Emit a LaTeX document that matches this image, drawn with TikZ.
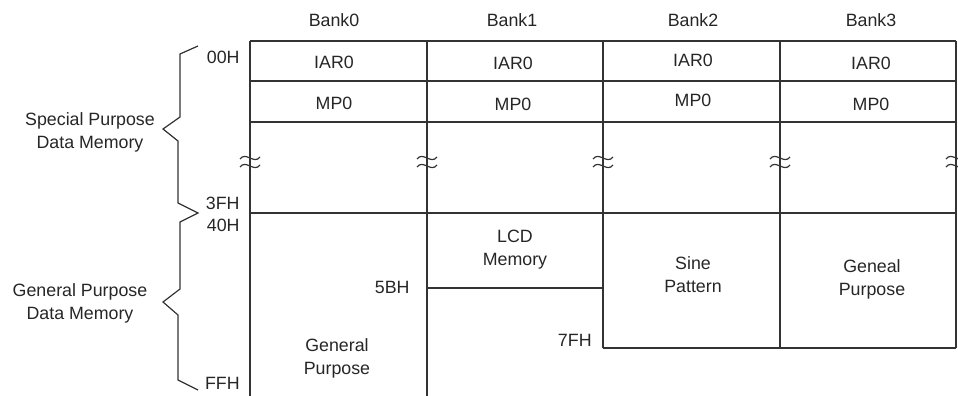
\documentclass[tikz,border=0pt]{standalone}
\usepackage{fontspec}
\setmainfont{Liberation Sans}

\begin{document}
\begin{tikzpicture}[x=0.5pt,y=-0.5pt,
  every node/.style={font=\fontsize{8.9}{11.4}\selectfont, text=black!85, align=center, inner sep=0pt},
  gridline/.style={draw=black!80, line width=0.65pt},
  bracket/.style={draw=black!80, line width=0.6pt},
  addr/.style={anchor=east},
]
    \useasboundingbox (0,0) rectangle (958,396);

    % bank headings
    \node (bank0) at (334,20) {Bank0};
    \node (bank1) at (512,20) {Bank1};
    \node (bank2) at (693,20) {Bank2};
    \node (bank3) at (871,20) {Bank3};

    % rows shared by all banks
    \draw [gridline] (250,41) -- (956,41);
    \draw [gridline] (250,81) -- (956,81);
    \draw [gridline] (250,122) -- (956,122);
    \draw [gridline] (250,213) -- (956,213);

    % bank dividers
    \draw [gridline] (250,41) -- (250,400);
    \draw [gridline] (427,41) -- (427,400);
    \draw [gridline] (603,41) -- (603,348);
    \draw [gridline] (780,41) -- (780,348);
    \draw [gridline] (956,41) -- (956,348);

    \draw [gridline] (427,288) -- (603,288);
    \draw [gridline] (603,348) -- (956,348);

    % break marks
    \foreach \x in {250,427,603,780,956} {
      \draw [bracket] (\x-10,159) .. controls (\x-4,151) and (\x+4,165) .. (\x+10,157);
      \draw [bracket] (\x-10,167) .. controls (\x-4,159) and (\x+4,173) .. (\x+10,165);
    }

    \node (iar0) at (334,62) {IAR0};
    \node (iar1) at (513,63) {IAR0};
    \node (iar2) at (693,60) {IAR0};
    \node (iar3) at (871,63) {IAR0};

    \node (mp0) at (334,103) {MP0};
    \node (mp1) at (513,104) {MP0};
    \node (mp2) at (693,100) {MP0};
    \node (mp3) at (871,104) {MP0};

    \node (lcd)  at (515,250) {LCD\\Memory};
    \node (sine) at (693,275) {Sine\\Pattern};
    \node (gen3) at (872,279) {Geneal\\Purpose};
    \node (gen0) at (337,358) {General\\Purpose};

    % addresses
    \node [addr] (a00) at (240,57)  {00H};
    \node [addr] (a3f) at (240,203) {3FH};
    \node [addr] (a40) at (240,225) {40H};
    \node [addr] (aff) at (240,383) {FFH};
    \node [addr] (a5b) at (410,287) {5BH};
    \node [addr] (a7f) at (592,340) {7FH};

    % braces
    \draw [bracket] (198,46) -- (180,54) -- (180,117) -- (163,129) -- (178,141) -- (178,203) -- (198,213)
      -- (180,222) -- (180,289) -- (163,302) -- (178,315) -- (178,380) -- (198,390);

    \node (spdm) at (90,132) {Special Purpose\\Data Memory};
    \node (gpdm) at (80,303) {General Purpose\\Data Memory};
\end{tikzpicture}
\end{document}
